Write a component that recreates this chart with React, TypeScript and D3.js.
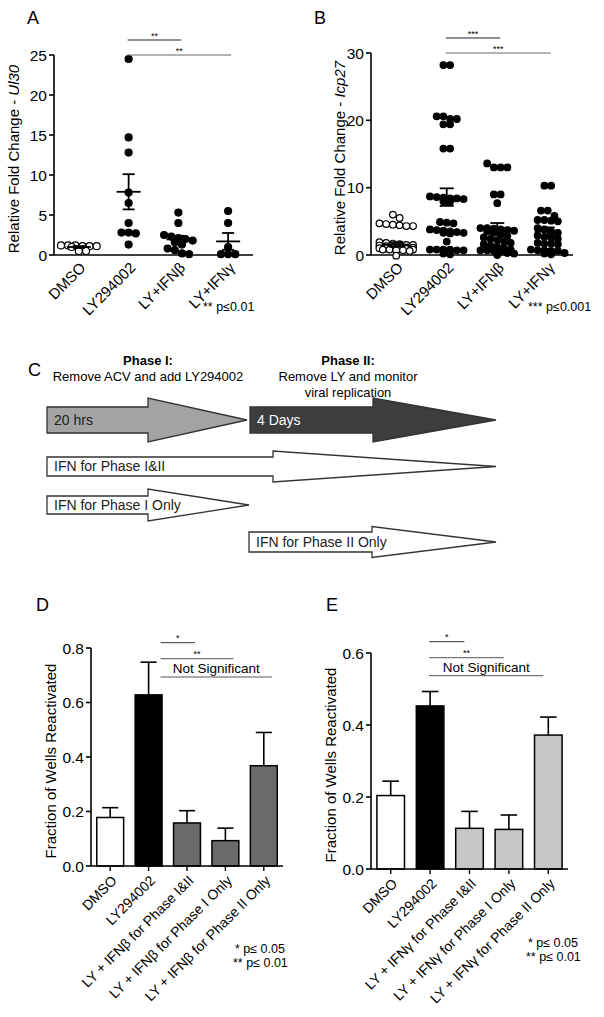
import React from 'react';
import * as d3 from 'd3';

const FONT = "'Liberation Sans', Arial, Helvetica, sans-serif";

// ---------- Panel A / B data ----------
const dotGroups = ['DMSO', 'LY294002', 'LY+IFNβ', 'LY+IFNγ'];

const aDMSO = [1.2, 1.1, 1.2, 1.1, 1.0, 1.2, 1.1, 0.5, 0.5];
const aLY = [24.5, 14.7, 12.8, 7.8, 6.5, 4.0, 2.8, 2.7, 2.8, 1.3];
const aIFNb = [5.3, 4.0, 2.5, 2.3, 2.1, 2.0, 1.8, 1.6, 1.3, 0.8, 0.6, 0.2, 0.1];
const aIFNg = [5.5, 4.0, 1.0, 0.1, 0.1, 0.1];
const aMeans = [1.0, 7.9, 1.95, 1.7];
const aSems = [0.12, 2.2, 0.45, 1.05];

const bDMSO = [6.0, 5.5, 4.7, 4.6, 4.5, 4.4, 4.3, 4.3,
  1.9, 1.8, 1.7, 1.6, 1.5, 1.5, 1.4, 1.3, 1.2, 1.2, 1.1, 1.1, 1.0, 1.0, 1.0,
  0.9, 0.9, 0.8, 0.8, 0.8, 0.7, 0.7, 0.6, -0.1];
const bLY = [28.2, 28.2, 20.6, 20.6, 20.2, 20.2, 19.4, 19.4, 15.8, 15.8,
  8.7, 8.6, 8.5, 8.4, 8.4, 8.3, 8.0, 7.9, 4.9, 4.8, 4.7,
  3.8, 3.7, 3.6, 3.5, 3.4, 3.3, 3.3, 3.2, 2.0,
  0.8, 0.8, 0.8, 0.8, 0.7, 0.7, 0.2, 0.1];
const bIFNb = [13.6, 13.0, 13.0, 13.0, 9.0, 9.0, 7.7,
  4.0, 4.0, 3.9, 3.8, 3.7, 3.6, 3.5, 3.3, 3.0, 2.8, 2.6, 2.4, 2.2, 2.0,
  1.8, 1.6, 1.4, 1.2, 1.0, 0.8, 0.7, 0.7, 0.6, 0.5, 0.3, 0.2, 0.0];
const bIFNg = [10.3, 10.3, 6.6, 6.6, 5.8, 5.2, 5.2, 5.1, 5.0, 4.0, 3.8, 3.5, 3.3,
  2.9, 2.7, 2.6, 2.4, 1.8, 1.7, 1.7, 1.6, 0.8, 0.7, 0.7, 0.6, 0.6, 0.3, 0.2, 0.1];
const bMeans = [1.55, 8.6, 4.0, 3.5];
const bSems = [0.35, 1.3, 0.75, 0.6];

const aTicks = [0, 5, 10, 15, 20, 25];
const bTicks = [0, 10, 20, 30];

// ---------- Panel C data ----------
const arrowLabels = ['20 hrs', '4 Days', 'IFN for Phase I&II', 'IFN for Phase I Only', 'IFN for Phase II Only'];
const arrowStart = [0, 1, 0, 0, 1];
const arrowEnd = [1, 2, 2, 1, 2];
const phaseTitles = ['Phase I:', 'Phase II:'];
const phaseDesc = [['Remove ACV and add LY294002'], ['Remove LY and monitor', 'viral replication']];

// ---------- Panel D / E data ----------
const dLabels = ['DMSO', 'LY294002', 'LY + IFNβ for Phase I&II', 'LY + IFNβ for Phase I Only', 'LY + IFNβ for Phase II Only'];
const dMeans = [0.178, 0.628, 0.158, 0.093, 0.368];
const dErr = [0.036, 0.12, 0.045, 0.046, 0.122];
const eLabels = ['DMSO', 'LY294002', 'LY + IFNγ for Phase I&II', 'LY + IFNγ for Phase I Only', 'LY + IFNγ for Phase II Only'];
const eMeans = [0.204, 0.453, 0.113, 0.11, 0.372];
const eErr = [0.04, 0.04, 0.047, 0.04, 0.05];
const dTicks = [0, 0.2, 0.4, 0.6, 0.8];
const eTicks = [0, 0.2, 0.4, 0.6];
const sigLabels = ['*', '**', 'Not Significant'];

function swarm(vals: number[], y: (v: number) => number, r: number, maxW: number) {
  const pts = vals.map(v => ({ v, y: y(v) })).sort((a, b) => a.y - b.y);
  const rows: { v: number; y: number }[][] = [];
  const step = 2 * r * 1.02;
  const perRow = Math.max(1, Math.floor(maxW / step));
  for (const p of pts) {
    const row = rows[rows.length - 1];
    if (row && Math.abs(p.y - row[0].y) < 2 * r * 0.85 && row.length < perRow) row.push(p);
    else rows.push([p]);
  }
  const out: { v: number; y: number; dx: number }[] = [];
  rows.forEach(row => row.forEach((p, i) => out.push({ ...p, dx: (i - (row.length - 1) / 2) * step })));
  return out;
}

function DotPanel(p: any) {
  const x = d3.scaleBand().domain(dotGroups).range(p.xr).paddingInner(0).paddingOuter(0);
  const y = d3.scaleLinear().domain([0, p.ymax]).range(p.yr);
  const cx = (g: string) => (x(g) as number) + x.bandwidth() / 2;
  const top = p.yr[1];
  return (
    <g fontFamily={FONT}>
      <text x={p.lx} y={p.ly} fontSize={18}>{p.letter}</text>
      <line x1={p.xr[0]} x2={p.xr[0]} y1={p.yr[0]} y2={p.yr[1]} stroke="#000" strokeWidth={1.6} />
      <line x1={p.xr[0]} x2={p.xr[1]} y1={p.yr[0]} y2={p.yr[0]} stroke="#000" strokeWidth={1.6} />
      {p.ticks.map((t: number) => (
        <g key={t}>
          <line x1={p.xr[0] - 5} x2={p.xr[0]} y1={y(t)} y2={y(t)} stroke="#000" strokeWidth={1.6} />
          <text x={p.xr[0] - 7} y={y(t)} dy="0.36em" textAnchor="end" fontSize={15.5}>{t}</text>
        </g>
      ))}
      <text transform={`translate(${p.ylx},${(p.yr[0] + p.yr[1]) / 2 + 4}) rotate(-90)`} textAnchor="middle" fontSize={15}>
        Relative Fold Change - <tspan fontStyle="italic">{p.gene}</tspan>
      </text>
      {dotGroups.map(g => (
        <text key={g} transform={`translate(${cx(g) + 4},${p.yr[0] + 10}) rotate(-45)`} textAnchor="end" fontSize={15} dy="0.35em">{g}</text>
      ))}
      {p.data.map((vals: number[], gi: number) => {
        const g = dotGroups[gi];
        return swarm(vals, y, p.r, p.maxW).map((pt, i) => (
          <circle key={gi + '-' + i} cx={cx(g) + pt.dx} cy={pt.y} r={p.r}
            fill={p.open[gi] ? '#fff' : '#000'} stroke="#000" strokeWidth={1.2} />
        ));
      })}
      {dotGroups.map((g, gi) => {
        const c = cx(g);
        const m = p.means[gi], s = p.sems[gi];
        return (
          <g key={'m' + g} stroke="#000" strokeWidth={1.8}>
            <line x1={c - p.mw} x2={c + p.mw} y1={y(m)} y2={y(m)} />
            <line x1={c} x2={c} y1={y(m - s)} y2={y(m + s)} />
            <line x1={c - p.cw} x2={c + p.cw} y1={y(m + s)} y2={y(m + s)} />
            <line x1={c - p.cw} x2={c + p.cw} y1={y(m - s)} y2={y(m - s)} />
          </g>
        );
      })}
      {[2, 3].map((j, k) => {
        const ly = top - 15 + k * 15;
        const x1 = cx(dotGroups[1]) - 1, x2 = cx(dotGroups[j]) + 3;
        return (
          <g key={'s' + j}>
            <line x1={x1} x2={x2} y1={ly} y2={ly} stroke={k === 0 ? '#222' : '#666'} strokeWidth={1} />
            <text x={(x1 + x2) / 2} y={ly - 1} textAnchor="middle" fontSize={9}>{p.stars}</text>
          </g>
        );
      })}
      <text x={p.px} y={p.py} fontSize={12.5}>{p.pText}</text>
    </g>
  );
}

function arrowPath(x0: number, tip: number, headLen: number, y: number, bh: number, hh: number) {
  const hx = tip - headLen;
  const path = d3.path();
  path.moveTo(x0, y - bh);
  path.lineTo(hx, y - bh);
  path.lineTo(hx, y - hh);
  path.lineTo(tip, y);
  path.lineTo(hx, y + hh);
  path.lineTo(hx, y + bh);
  path.lineTo(x0, y + bh);
  path.closePath();
  return path.toString();
}

function PanelC() {
  const x = d3.scaleLinear().domain([0, 1, 2]).range([47, 249, 496]);
  const headLen = [99, 123, 223, 101, 124];
  const bodyH = [13, 13, 9.5, 9, 10];
  const headH = [22, 22, 15.5, 16, 15.5];
  const midY = [420, 420, 466.5, 505, 542];
  const fills = ['#a3a3a3', '#3d3d3d', '#fff', '#fff', '#fff'];
  const textFill = ['#222', '#fff', '#222', '#222', '#222'];
  const titleX = [148, 348];
  return (
    <g fontFamily={FONT}>
      <text x={28} y={376} fontSize={18}>C</text>
      {phaseTitles.map((t, i) => (
        <g key={t}>
          <text x={titleX[i]} y={365} textAnchor="middle" fontSize={13} fontWeight="bold">{t}</text>
          {phaseDesc[i].map((d, j) => (
            <text key={d} x={titleX[i]} y={381 + j * 16} textAnchor="middle" fontSize={13}>{d}</text>
          ))}
        </g>
      ))}
      {arrowLabels.map((lab, i) => {
        const x0 = x(arrowStart[i]) + (arrowStart[i] > 0 && i === 1 ? 1 : 0);
        const tip = x(arrowEnd[i]) - (i === 0 ? 2 : 0);
        return (
          <g key={lab}>
            <path d={arrowPath(x0, tip, headLen[i], midY[i], bodyH[i], headH[i])}
              fill={fills[i]} stroke="#333" strokeWidth={1.3} />
            <text x={x0 + 7} y={midY[i]} dy="0.35em" fontSize={14} fill={textFill[i]}>{lab}</text>
          </g>
        );
      })}
    </g>
  );
}

function BarPanel(p: any) {
  const x = d3.scaleBand().domain(p.labels).range(p.xr).paddingInner(0.3).paddingOuter(0.15);
  const y = d3.scaleLinear().domain([0, p.ymax]).range(p.yr);
  const cx = (i: number) => (x(p.labels[i]) as number) + x.bandwidth() / 2;
  const bw = x.bandwidth();
  return (
    <g fontFamily={FONT}>
      <text x={p.lx} y={p.ly} fontSize={18}>{p.letter}</text>
      {p.means.map((m: number, i: number) => (
        <g key={i}>
          <line x1={cx(i)} x2={cx(i)} y1={y(m)} y2={y(m + p.err[i])} stroke="#000" strokeWidth={1.6} />
          <line x1={cx(i) - bw * 0.3} x2={cx(i) + bw * 0.3} y1={y(m + p.err[i])} y2={y(m + p.err[i])} stroke="#000" strokeWidth={1.6} />
          <rect x={x(p.labels[i])} y={y(m)} width={bw} height={y(0) - y(m)} fill={p.colors[i]} stroke="#000" strokeWidth={1.5} />
        </g>
      ))}
      <line x1={p.xr[0]} x2={p.xr[0]} y1={p.yr[0]} y2={p.yr[1]} stroke="#000" strokeWidth={1.6} />
      <line x1={p.xr[0]} x2={p.xr[1]} y1={p.yr[0]} y2={p.yr[0]} stroke="#000" strokeWidth={1.6} />
      {p.ticks.map((t: number) => (
        <g key={t}>
          <line x1={p.xr[0] - 5} x2={p.xr[0]} y1={y(t)} y2={y(t)} stroke="#000" strokeWidth={1.6} />
          <text x={p.xr[0] - 7} y={y(t)} dy="0.36em" textAnchor="end" fontSize={15.5}>{d3.format('.1f')(t)}</text>
        </g>
      ))}
      {p.labels.map((l: string, i: number) => (
        <g key={l}>
          <line x1={cx(i)} x2={cx(i)} y1={p.yr[0]} y2={p.yr[0] + 5} stroke="#000" strokeWidth={1.4} />
          <text transform={`translate(${cx(i) + 4},${p.yr[0] + 12}) rotate(-45)`} textAnchor="end" dy="0.35em" fontSize={14}>{l}</text>
        </g>
      ))}
      <text transform={`translate(${p.ylx},${(p.yr[0] + p.yr[1]) / 2 + 4}) rotate(-90)`} textAnchor="middle" fontSize={15}>Fraction of Wells Reactivated</text>
      {sigLabels.map((s, k) => {
        const x1 = cx(1) + p.off1, x2 = cx(k + 2) + p.off2;
        const ly = p.sigY[k];
        return (
          <g key={s}>
            <line x1={x1} x2={x2} y1={ly} y2={ly} stroke={k === 0 ? '#333' : '#555'} strokeWidth={1} />
            <text x={(x1 + x2) / 2} y={k === 2 ? ly - 4 : ly - 2} textAnchor="middle" fontSize={k === 2 ? 13.5 : 9}>{s}</text>
          </g>
        );
      })}
      <text x={p.px} y={p.py} fontSize={12.5}>{'*  p≤ 0.05'}</text>
      <text x={p.px - 2} y={p.py + 14} fontSize={12.5}>{'** p≤ 0.01'}</text>
    </g>
  );
}

export default function App() {
  return (
    <svg width={604} height={1017} style={{ position: 'absolute', left: 0, top: 0, background: '#fff' }}>
      <rect width={604} height={1017} fill="#fff" />
      <DotPanel letter="A" lx={27} ly={24} data={[aDMSO, aLY, aIFNb, aIFNg]} means={aMeans} sems={aSems}
        open={[true, false, false, false]} xr={[54, 253]} yr={[255, 55]} ymax={25} ticks={aTicks}
        gene="Ul30" ylx={19} r={3.5} maxW={44} mw={12} cw={6} stars="**"
        pText="** p≤0.01" px={203} py={311} />
      <DotPanel letter="B" lx={314} ly={24} data={[bDMSO, bLY, bIFNb, bIFNg]} means={bMeans} sems={bSems}
        open={[true, false, false, false]} xr={[371, 573]} yr={[255, 53]} ymax={30} ticks={bTicks}
        gene="Icp27" ylx={345} r={3.3} maxW={44} mw={13} cw={7} stars="***"
        pText="*** p≤0.001" px={528} py={311} />
      <PanelC />
      <BarPanel letter="D" lx={36} ly={611} labels={dLabels} means={dMeans} err={dErr}
        colors={['#fff', '#000', '#6b6b6b', '#6b6b6b', '#6b6b6b']} xr={[91, 283]} yr={[866, 648]} ymax={0.8}
        ticks={dTicks} ylx={56} sigY={[642.7, 658.7, 677]} off1={12} off2={8} px={235} py={953} />
      <BarPanel letter="E" lx={326} ly={611} labels={eLabels} means={eMeans} err={eErr}
        colors={['#fff', '#000', '#c6c6c6', '#c6c6c6', '#c6c6c6']} xr={[371, 568]} yr={[869, 653]} ymax={0.6}
        ticks={eTicks} ylx={336} sigY={[641.7, 657.7, 675.7]} off1={-1} off2={-5} px={528} py={947} />
    </svg>
  );
}
